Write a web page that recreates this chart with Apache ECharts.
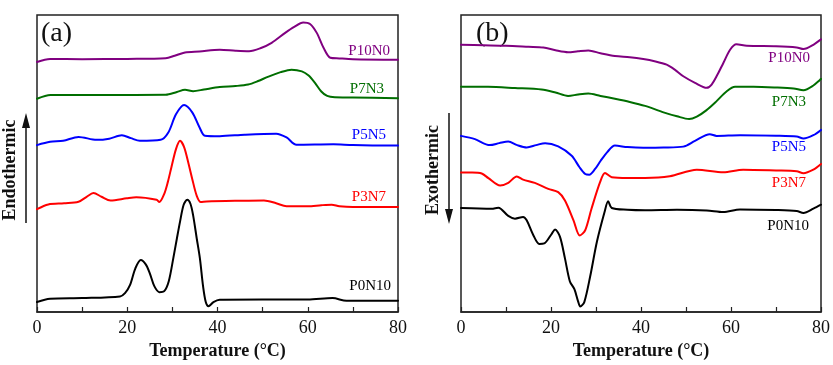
<!DOCTYPE html>
<html>
<head>
<meta charset="utf-8">
<script src="https://cdn.jsdelivr.net/npm/echarts@6/dist/echarts.min.js"></script>
<style>
html,body{margin:0;padding:0;background:#fff;}
#chart{width:833px;height:365px;}
</style>
</head>
<body>
<div id="chart"></div>
<script>
// ---- Panel (a): heating (Endothermic up) ----
const seriesNames = ['P10N0', 'P7N3', 'P5N5', 'P3N7', 'P0N10'];
const seriesColors = ['#800080', '#006e00', '#0000ff', '#ff0000', '#000000'];
const xTicks = [0, 20, 40, 60, 80];

const aTemp_P10N0 = [0, 2.9, 10, 20, 28.5, 30.5, 32.8, 36, 40.5, 44, 47, 49.5, 52, 55, 57, 59, 60.5, 62, 63.5, 65, 67, 70, 80];
const aHeat_P10N0 = [251.7, 254.7, 254.5, 254.8, 255.5, 258, 261.3, 262.3, 264, 263, 262.5, 265.5, 271, 281, 287, 291.5, 290, 281, 266, 256, 255.3, 254.5, 254];

const aTemp_P7N3 = [0, 3, 15, 28.5, 31, 32.8, 34.6, 37, 40.5, 44, 46.8, 49, 51.3, 54, 56.4, 58.7, 60.2, 61.6, 63, 64.3, 66, 70, 80];
const aHeat_P7N3 = [214.7, 218.5, 218.5, 218.7, 221.5, 223.7, 222.3, 224, 226.5, 227.5, 229, 232.5, 237, 241.5, 244, 242.3, 238, 230.7, 222, 217.5, 216.2, 216, 215.3];

const aTemp_P5N5 = [0, 2.9, 5.8, 9.2, 13.2, 16, 18.8, 20.8, 22.8, 27.4, 29.1, 30.8, 32.6, 34.4, 36, 37.2, 40.5, 46, 53, 55.3, 57.5, 65.7, 70, 80];
const aHeat_P5N5 = [168, 171.3, 172.3, 176.3, 173.3, 174.5, 178, 175, 172.3, 173.3, 180.7, 199, 208.3, 201, 186, 177.5, 177, 178.5, 179.5, 175.7, 168.3, 168.8, 168, 167.5];

const aTemp_P3N7 = [0, 2.5, 6, 9.2, 11, 12.5, 14.3, 16.3, 19.9, 22, 26.5, 27.1, 28.2, 29, 29.8, 30.8, 31.7, 32.6, 33.6, 34.4, 35.4, 36.3, 37.6, 45, 50.3, 53, 55.3, 60, 63, 65.3, 67, 70, 80];
const aHeat_P3N7 = [103.5, 108.3, 109.5, 111, 116, 119.8, 116, 112.3, 114.5, 115.5, 113, 110.7, 119, 131, 146, 164, 172.3, 166, 149, 134, 117, 110.7, 111.3, 112, 112.3, 109.5, 106.5, 106.5, 107.5, 108, 106.5, 105.7, 105.7];

const aTemp_P0N10 = [0, 2.9, 10, 18.4, 19.5, 20.6, 21.8, 23, 24.1, 25, 26, 27.1, 28.2, 29.2, 30.2, 31, 31.7, 32.5, 33.3, 34, 34.6, 35.4, 36.1, 36.8, 37.4, 38, 39.1, 40.5, 50, 60, 65.5, 68.6, 80];
const aHeat_P0N10 = [10, 13.3, 14, 15.7, 19, 27, 44, 52.3, 48, 39, 26, 20, 21, 31, 54, 74, 91, 108, 113, 109, 97.3, 74, 54, 26, 10, 5.7, 10, 12.3, 12.5, 12.5, 14, 11.3, 11.3];

// ---- Panel (b): cooling (Exothermic down) ----
const bTemp_P10N0 = [0, 5, 10, 15, 18.3, 21, 23.8, 26, 28.3, 31, 34.2, 37.5, 40.5, 43, 45.7, 47.5, 49.4, 52, 54.6, 55.7, 57, 58.3, 59.8, 61.2, 63.5, 70, 74.6, 76.1, 78.3, 80];
const bHeat_P10N0 = [269, 268.5, 268, 267, 266.3, 263.5, 261.5, 262.5, 263.3, 260.5, 257.7, 256.5, 254.7, 252.5, 249, 244, 237.3, 230.7, 225.7, 229, 239, 250.7, 264, 269.5, 268, 267.5, 266.3, 264.7, 269, 274.5];

const bTemp_P7N3 = [0, 6, 12, 17.9, 21, 23.8, 26, 28.3, 31, 34.2, 37.5, 40.9, 45, 48, 50.7, 52.4, 54.5, 56.8, 59, 60.9, 65, 70, 73.9, 76.1, 78.3, 80];
const bHeat_P7N3 = [226.7, 226.7, 225.5, 224, 221, 217.5, 219, 220, 217.5, 214.7, 211.5, 207.5, 201, 197, 194.2, 196.7, 203, 212.3, 222, 226.7, 226.7, 226, 225, 223.3, 228, 234.7];

const bTemp_P5N5 = [0, 3.1, 6.4, 8.5, 10.5, 12.5, 14.6, 16.7, 18.7, 21.6, 24.6, 26.3, 27.6, 28.5, 29.8, 31, 32.5, 34.2, 37, 40.5, 45, 49.4, 52, 55.3, 56.8, 62, 70, 74.6, 76.1, 78.3, 80];
const bHeat_P5N5 = [177.3, 174, 168, 170, 171.7, 168, 165.7, 168, 170, 166.7, 157.3, 146, 139, 138.3, 144, 152, 161, 167.5, 166, 165.3, 165.5, 166.5, 172.3, 179, 177.3, 178, 177.5, 176.7, 174.7, 178, 183.3];

const bTemp_P3N7 = [0, 2.5, 4.6, 6.1, 8.7, 10.5, 12.4, 13.8, 16.4, 19.4, 21.6, 23.1, 25, 26.4, 27.6, 29, 30.9, 32, 33.5, 37, 40.9, 46.4, 52.4, 58.3, 62.7, 70, 74.6, 76.1, 78.3, 80];
const bHeat_P3N7 = [140.5, 140.5, 139.5, 134.7, 127.3, 130, 136.5, 133.3, 130, 124, 120.7, 112.3, 92.3, 77, 82.3, 104, 130.7, 140, 135.7, 135, 135, 136.7, 143.3, 140.7, 143.3, 142.5, 141.7, 139.7, 143.3, 149];

const bTemp_P0N10 = [0, 4, 6.8, 8.3, 10.5, 12, 13.8, 14.6, 16, 17.4, 18.5, 20.2, 20.9, 22, 23.1, 24.2, 25.2, 26, 26.5, 27.4, 28.7, 30.2, 31.9, 32.7, 33.5, 37, 40.9, 48, 54.6, 58.3, 62, 70, 74.6, 76.1, 78.3, 80];
const bHeat_P0N10 = [104.7, 104.2, 104, 105, 96.7, 94, 95.7, 92.3, 78, 68.5, 69, 79, 83, 75.7, 54, 30.7, 23, 11, 5.5, 10, 35.7, 70.7, 100.7, 111.5, 104.7, 103, 102.5, 103, 102.3, 100.7, 103.3, 102.7, 101.7, 99.7, 104, 108];

const panelA = [[aTemp_P10N0, aHeat_P10N0], [aTemp_P7N3, aHeat_P7N3], [aTemp_P5N5, aHeat_P5N5], [aTemp_P3N7, aHeat_P3N7], [aTemp_P0N10, aHeat_P0N10]];
const panelB = [[bTemp_P10N0, bHeat_P10N0], [bTemp_P7N3, bHeat_P7N3], [bTemp_P5N5, bHeat_P5N5], [bTemp_P3N7, bHeat_P3N7], [bTemp_P0N10, bHeat_P0N10]];

const zip = (t, v) => t.map((x, i) => [x, v[i]]);
const serif = '"Liberation Serif", "Times New Roman", serif';

function xAxisFor(gi) {
  return {
    type: 'value', gridIndex: gi, min: 0, max: 80, interval: 10,
    axisLine: { show: true, lineStyle: { color: '#222', width: 1.5 } },
    axisTick: { show: true, inside: true, length: 5, lineStyle: { color: '#222', width: 1.2 } },
    splitLine: { show: false },
    axisLabel: {
      color: '#111', fontFamily: serif, fontSize: 18, margin: 7,
      formatter: v => (xTicks.indexOf(v) >= 0 ? String(v) : '')
    },
    name: 'Temperature (\u00B0C)', nameLocation: 'middle', nameGap: 30,
    nameTextStyle: { color: '#111', fontFamily: serif, fontSize: 18, fontWeight: 'bold' }
  };
}
function yAxisFor(gi) {
  return {
    type: 'value', gridIndex: gi, min: 0, max: 299,
    axisLine: { show: false }, axisTick: { show: false },
    axisLabel: { show: false }, splitLine: { show: false }
  };
}

const series = [];
[panelA, panelB].forEach((panel, gi) => {
  panel.forEach((d, i) => {
    series.push({
      name: seriesNames[i] + (gi ? '_b' : '_a'),
      type: 'line', xAxisIndex: gi, yAxisIndex: gi,
      data: zip(d[0], d[1]), showSymbol: false, symbol: 'none',
      smooth: 0.3,
      lineStyle: { color: seriesColors[i], width: 2, join: 'round', cap: 'round' },
      z: 5
    });
  });
});

// series name labels (layout positions)
const labA = [[390, 51], [384, 89], [386, 135], [386, 197], [391, 286]];
const labB = [[810, 58], [806, 102], [806, 147], [806, 183], [809, 226]];
const graphics = [];
[labA, labB].forEach(lab => {
  lab.forEach((p, i) => {
    graphics.push({
      type: 'text', x: p[0], y: p[1], z: 10,
      style: { text: seriesNames[i], fill: seriesColors[i], font: '15px ' + serif, textAlign: 'right', textVerticalAlign: 'middle' }
    });
  });
});
graphics.push(
  { type: 'text', x: 41, y: 34, style: { text: '(a)', fill: '#111', font: '28px ' + serif, textVerticalAlign: 'middle' } },
  { type: 'text', x: 476, y: 34, style: { text: '(b)', fill: '#111', font: '28px ' + serif, textVerticalAlign: 'middle' } },
  { type: 'text', x: 10, y: 170, rotation: Math.PI / 2, style: { text: 'Endothermic', fill: '#111', font: 'bold 18px ' + serif, textAlign: 'center', textVerticalAlign: 'middle' } },
  { type: 'text', x: 433, y: 170, rotation: Math.PI / 2, style: { text: 'Exothermic', fill: '#111', font: 'bold 18px ' + serif, textAlign: 'center', textVerticalAlign: 'middle' } },
  { type: 'line', shape: { x1: 26, y1: 223, x2: 26, y2: 125 }, style: { stroke: '#111', lineWidth: 1.5 } },
  { type: 'polygon', shape: { points: [[26, 113], [22, 128], [30, 128]] }, style: { fill: '#111' } },
  { type: 'line', shape: { x1: 449, y1: 113, x2: 449, y2: 210 }, style: { stroke: '#111', lineWidth: 1.5 } },
  { type: 'polygon', shape: { points: [[449, 224], [445, 209], [453, 209]] }, style: { fill: '#111' } }
);

const chart = echarts.init(document.getElementById('chart'), null, { renderer: 'canvas' });
chart.setOption({
  animation: false,
  backgroundColor: '#fff',
  grid: [
    { left: 37, top: 15, width: 361, height: 299, show: true, borderColor: '#222', borderWidth: 1.5, backgroundColor: 'transparent' },
    { left: 461, top: 15, width: 360, height: 299, show: true, borderColor: '#222', borderWidth: 1.5, backgroundColor: 'transparent' }
  ],
  xAxis: [xAxisFor(0), xAxisFor(1)],
  yAxis: [yAxisFor(0), yAxisFor(1)],
  series: series,
  graphic: graphics
});
</script>
</body>
</html>
